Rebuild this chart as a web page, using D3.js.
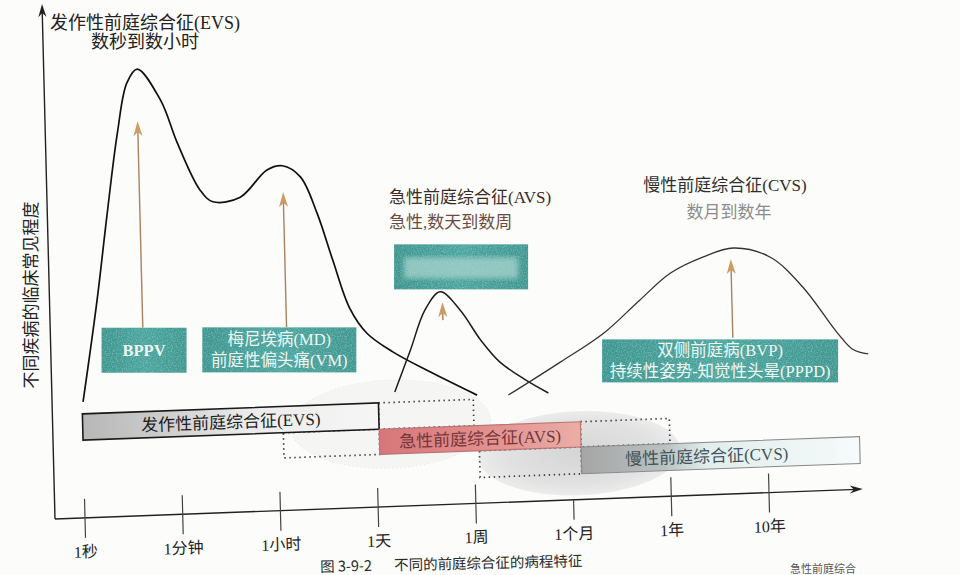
<!DOCTYPE html>
<html>
<head>
<meta charset="utf-8">
<script src="https://cdn.jsdelivr.net/npm/d3@7"></script>
<style>
  body { margin: 0; background: #fcfcfa; }
  svg { display: block; }
</style>
</head>
<body>
<script>
// time axis (log-like steps)
const timeLabels = ['1秒', '1分钟', '1小时', '1天', '1周', '1个月', '1年', '10年'];

// prevalence curves, x in time steps, y in % of axis height
const evsX = [0.01, 0.18, 0.30, 0.43, 0.54, 0.65, 0.88, 1.04, 1.26, 1.39, 1.67, 1.95, 2.11, 2.29, 2.45, 2.60, 2.76, 2.93, 3.19, 3.57, 4.04];
const evsY = [22.5, 42.2, 58.2, 74.4, 84.1, 86.7, 80.5, 72.1, 62.8, 60.4, 61.1, 66.2, 66.9, 64.6, 57.5, 48.2, 38.8, 33.8, 30.0, 25.8, 21.0];
const avsX = [3.20, 3.37, 3.53, 3.69, 3.89, 4.09, 4.28, 4.54, 4.77];
const avsY = [22.2, 30.2, 37.9, 41.3, 37.6, 31.7, 27.3, 23.6, 20.9];
const cvsX = [4.36, 4.48, 4.90, 5.35, 5.73, 6.05, 6.39, 6.70, 7.07, 7.40, 7.74, 7.90, 8.05];
const cvsY = [20.8, 22.1, 26.8, 32.1, 38.3, 43.3, 46.2, 47.7, 45.7, 39.6, 30.5, 27.1, 26.2];

// course bars
const laneNames = ['发作性前庭综合征(EVS)', '急性前庭综合征(AVS)', '慢性前庭综合征(CVS)'];
const barStart = [0.00, 3.03, 5.09];
const barEnd = [3.03, 5.09, 7.94];
const extStart = [0.00, 2.05, 4.05];
const extEnd = [4.00, 6.00, 7.94];
const barLow = [15.1, 10.2, 5.0];
const barHigh = [20.2, 15.1, 10.2];

// disease boxes and arrows pointing to the curves
const boxLines = [['BPPV'], ['梅尼埃病(MD)', '前庭性偏头痛(VM)'], [''], ['双侧前庭病(BVP)', '持续性姿势-知觉性头晕(PPPD)']];
const boxX = [0.647, 2.03, 3.91, 6.534];
const boxY = [32.1, 31.2, 46.0, 25.9];
const arrowX = [0.64, 2.11, 3.71, 6.67];
const arrowFrom = [36.5, 35.6, 35.8, 30.3];
const arrowTo = [76.6, 61.8, 39.3, 45.6];

const W = 960, H = 575;
const serif = "'Liberation Serif', 'Noto Sans CJK SC', serif";
const sans = "'Noto Sans CJK SC', 'Noto Sans', sans-serif";

// the scanned page is slightly skewed, keep the same skew
const M = {a: 1, b: -0.037, c: 0.0252, d: 1, e: 55, f: 519};
const toPage = (px, py) => [M.a * px + M.c * py + M.e, M.b * px + M.d * py + M.f];

const x = d3.scaleLinear().domain([0, 7]).range([30, 714]);
const y = d3.scaleLinear().domain([0, 100]).range([0, -515]);
const xEnd = 7.96;

const svg = d3.select('body').append('svg').attr('width', W).attr('height', H);
svg.append('rect').attr('width', W).attr('height', H).attr('fill', '#fcfcfa');
const defs = svg.append('defs');

function linGrad(id, stops) {
	const g = defs.append('linearGradient').attr('id', id);
	stops.forEach(([o, c]) => g.append('stop').attr('offset', o).attr('stop-color', c));
}
linGrad('g-evs', [[0, '#b7b7b7'], [0.25, '#cbcbcb'], [0.55, '#ebebeb'], [1, '#f6f6f6']]);
linGrad('g-avs', [[0, '#d7767a'], [0.5, '#e28e8d'], [1, '#eaaea6']]);
linGrad('g-cvs', [[0, '#a5a5a5'], [0.3, '#bbc1c1'], [0.45, '#e0eeed'], [1, '#f6fafa']]);
linGrad('g-teal', [[0, '#3d968f'], [0.5, '#4aa59e'], [1, '#3f9890']]);

const rg = defs.append('radialGradient').attr('id', 'g-ell');
rg.append('stop').attr('offset', 0).attr('stop-color', '#d5d5d5');
rg.append('stop').attr('offset', 0.75).attr('stop-color', '#e2e2e2');
rg.append('stop').attr('offset', 1).attr('stop-color', '#ececec');

const speck = defs.append('filter').attr('id', 'speck').attr('x', 0).attr('y', 0).attr('width', 1).attr('height', 1);
speck.append('feTurbulence').attr('type', 'fractalNoise').attr('baseFrequency', 0.8)
	.attr('numOctaves', 2).attr('seed', 3).attr('result', 'n');
speck.append('feColorMatrix').attr('in', 'n').attr('type', 'matrix')
	.attr('values', '0 0 0 0 1  0 0 0 0 1  0 0 0 0 1  1.2 0 0 0 -0.5').attr('result', 'm');
speck.append('feComposite').attr('in', 'm').attr('in2', 'SourceGraphic').attr('operator', 'in');

defs.append('filter').attr('id', 'blur').append('feGaussianBlur').attr('stdDeviation', 2.5);

// plot layer in skewed coordinates
const g = svg.append('g').attr('transform', `matrix(${M.a},${M.b},${M.c},${M.d},${M.e},${M.f})`);

// shaded overlap zones
g.append('ellipse').attr('cx', x(3.15)).attr('cy', y(16)).attr('rx', 100).attr('ry', 44)
	.attr('fill', '#f5f5f4').attr('stroke', '#e6e6e6').attr('stroke-width', 1).attr('stroke-dasharray', '1,3');
g.append('ellipse').attr('cx', x(5.07)).attr('cy', y(9.0)).attr('rx', 101).attr('ry', 42).attr('fill', 'url(#g-ell)');

// dotted extensions of each course
laneNames.forEach((name, i) => {
	const segs = [];
	if (extStart[i] < barStart[i]) segs.push([extStart[i], barStart[i]]);
	if (extEnd[i] > barEnd[i]) segs.push([barEnd[i], extEnd[i]]);
	segs.forEach(([s, e]) => {
		g.append('rect')
			.attr('x', x(s)).attr('y', y(barHigh[i]))
			.attr('width', x(e) - x(s)).attr('height', y(barLow[i]) - y(barHigh[i]))
			.attr('fill', 'none').attr('stroke', '#3a3a3a').attr('stroke-width', 1.7)
			.attr('stroke-dasharray', '1.4,3.6');
	});
});

// course bars
const barFill = ['url(#g-evs)', 'url(#g-avs)', 'url(#g-cvs)'];
const barStroke = ['#1a1a1a', '#b87474', '#8a8a8a'];
const barText = ['#1e1e1e', '#74363a', '#42545a'];
const labelAt = [0.5, 0.5, 0.45];
laneNames.forEach((name, i) => {
	g.append('rect')
		.attr('x', x(barStart[i])).attr('y', y(barHigh[i]))
		.attr('width', x(barEnd[i]) - x(barStart[i])).attr('height', y(barLow[i]) - y(barHigh[i]))
		.attr('fill', barFill[i]).attr('stroke', barStroke[i]).attr('stroke-width', i == 0 ? 1.6 : 1.1);
	g.append('text')
		.attr('x', x(barStart[i] + (barEnd[i] - barStart[i]) * labelAt[i]))
		.attr('y', (y(barLow[i]) + y(barHigh[i])) / 2 + 1)
		.attr('text-anchor', 'middle').attr('dominant-baseline', 'central')
		.attr('font-family', serif).attr('font-size', 17).attr('fill', barText[i])
		.text(name);
});

// prevalence curves
const line = d3.line().x(d => x(d[0])).y(d => y(d[1])).curve(d3.curveCatmullRom.alpha(0.5));
[[evsX, evsY, '#111', 1.7], [avsX, avsY, '#1c1c1c', 1.5], [cvsX, cvsY, '#333', 1.3]].forEach(([xs, ys, col, w]) => {
	g.append('path')
		.attr('d', line(xs.map((v, k) => [v, ys[k]])))
		.attr('fill', 'none').attr('stroke', col).attr('stroke-width', w);
});

// axes
const xe = x(xEnd), yt = y(100);
g.append('line').attr('x1', 0).attr('y1', 0).attr('x2', xe - 6).attr('y2', 0)
	.attr('stroke', '#222').attr('stroke-width', 1.4);
g.append('path').attr('d', `M${xe},0 L${xe - 13},-4 L${xe - 9},0 L${xe - 13},4 Z`).attr('fill', '#222');
g.append('line').attr('x1', 0).attr('y1', 0).attr('x2', 0).attr('y2', yt + 6)
	.attr('stroke', '#222').attr('stroke-width', 1.4);
g.append('path').attr('d', `M0,${yt} L-4,${yt + 13} L0,${yt + 9} L4,${yt + 13} Z`).attr('fill', '#222');

timeLabels.forEach((t, i) => {
	g.append('line')
		.attr('x1', x(i)).attr('x2', x(i))
		.attr('y1', i == 5 ? 0 : -19).attr('y2', 20)
		.attr('stroke', '#444').attr('stroke-width', 1.2);
	g.append('text')
		.attr('x', x(i)).attr('y', 34)
		.attr('text-anchor', 'middle').attr('dominant-baseline', 'central')
		.attr('font-family', serif).attr('font-size', 16).attr('fill', '#222')
		.text(t);
});

// arrows from the boxes to the curves
arrowX.forEach((ax, i) => {
	const px = x(ax), y0 = y(arrowFrom[i]), y1 = y(arrowTo[i]);
	g.append('line').attr('x1', px).attr('x2', px).attr('y1', y0).attr('y2', y1 + 10)
		.attr('stroke', '#a9825f').attr('stroke-width', 1.4);
	g.append('path')
		.attr('d', `M${px},${y1} L${px - 4.5},${y1 + 15} L${px},${y1 + 11} L${px + 4.5},${y1 + 15} Z`)
		.attr('fill', '#cc9a62');
});

// disease boxes (kept upright)
const boxW = [85, 154, 134, 236], boxH = [45, 45, 45, 43];
boxLines.forEach((lines, i) => {
	const [cx, cy] = toPage(x(boxX[i]), y(boxY[i]));
	const bx = cx - boxW[i] / 2, by = cy - boxH[i] / 2;
	svg.append('rect').attr('x', bx).attr('y', by).attr('width', boxW[i]).attr('height', boxH[i])
		.attr('fill', 'url(#g-teal)');
	svg.append('rect').attr('x', bx).attr('y', by).attr('width', boxW[i]).attr('height', boxH[i])
		.attr('fill', '#fff').attr('filter', 'url(#speck)').attr('opacity', 0.55);
	if (lines[0] === '') {
		// blurred content in the original
		svg.append('rect').attr('x', bx + 10).attr('y', by + 13).attr('width', boxW[i] - 20).attr('height', boxH[i] - 24)
			.attr('fill', '#a8d4cd').attr('opacity', 0.75).attr('filter', 'url(#blur)');
		return;
	}
	lines.forEach((txt, k) => {
		svg.append('text')
			.attr('x', cx).attr('y', cy + (k - (lines.length - 1) / 2) * 21)
			.attr('text-anchor', 'middle').attr('dominant-baseline', 'central')
			.attr('font-family', serif).attr('font-size', 16.5)
			.attr('font-weight', lines.length == 1 ? 'bold' : 'normal')
			.attr('fill', '#eef6f2').text(txt);
	});
});

// titles
function label(tx, ty, str, opts = {}) {
	return svg.append('text').attr('x', tx).attr('y', ty)
		.attr('text-anchor', opts.anchor || 'middle').attr('dominant-baseline', 'central')
		.attr('font-family', opts.font || serif).attr('font-size', opts.size || 17)
		.attr('fill', opts.color || '#222').text(str);
}
label(145, 23, '发作性前庭综合征(EVS)', {size: 18});
label(145, 42, '数秒到数小时', {size: 18});
label(389, 197, '急性前庭综合征(AVS)', {anchor: 'start', color: '#3b2b28'});
label(389, 222, '急性,数天到数周', {anchor: 'start', color: '#6b4c42'});
label(725, 185, '慢性前庭综合征(CVS)', {color: '#2e2e2e'});
label(729, 212, '数月到数年', {color: '#8c8c8c'});

label(0, 0, '不同疾病的临床常见程度', {size: 17})
	.attr('transform', 'translate(31,295) rotate(-90)');

// caption
const cap = svg.append('text').attr('transform', 'translate(320,565) rotate(-1.3)')
	.attr('font-family', sans).attr('font-size', 14.5).attr('fill', '#2a2a2a').attr('dominant-baseline', 'central');
cap.append('tspan').attr('x', 0).text('图 3-9-2');
cap.append('tspan').attr('x', 74).text('不同的前庭综合征的病程特征');
// next caption peeking in at the page bottom
svg.append('text').attr('x', 790).attr('y', 573).attr('font-family', sans).attr('font-size', 11)
	.attr('fill', '#555').text('急性前庭综合');
</script>
</body>
</html>
